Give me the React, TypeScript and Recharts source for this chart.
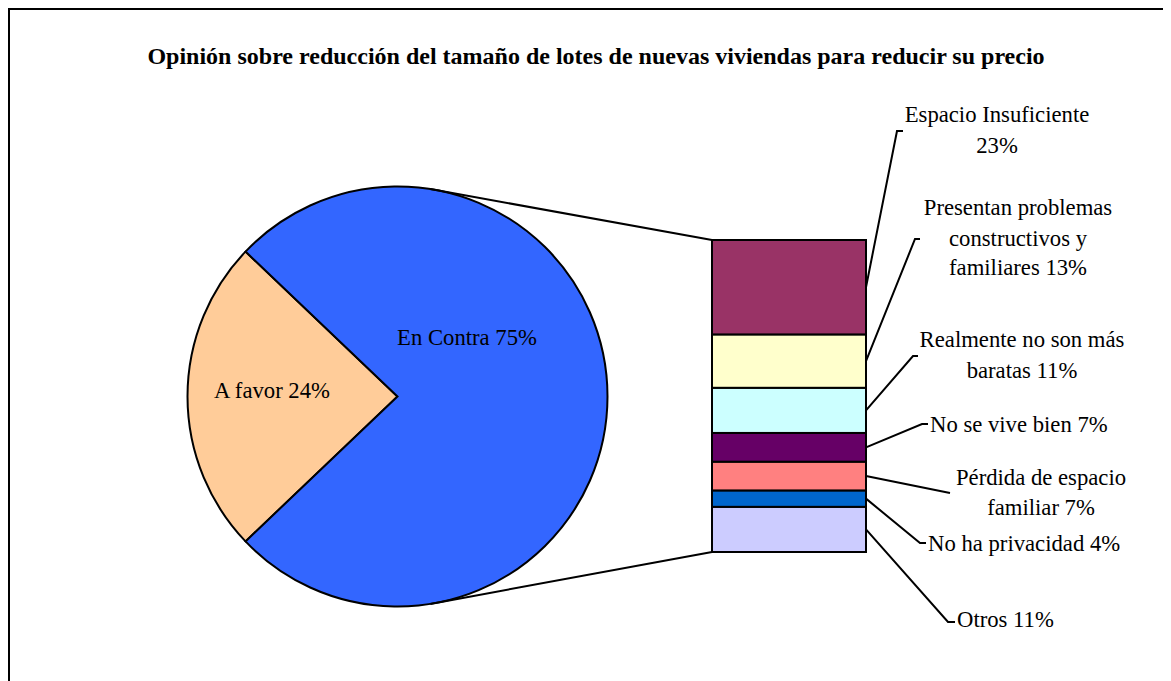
import React from 'react';
import { PieChart, Pie, Cell, BarChart, Bar, XAxis, YAxis } from 'recharts';

const title = 'Opinión sobre reducción del tamaño de lotes de nuevas viviendas para reducir su precio';

const pieNames = ['A favor', 'En Contra'];
const pieValues = [24, 75];
const pieColors = ['#FFCC99', '#3366FF'];

// desglose de "En Contra", de abajo hacia arriba
const barKeys = ['otros', 'privacidad', 'perdida', 'viveBien', 'baratas', 'problemas', 'espacio'];
const barValues = [11, 4, 7, 7, 11, 13, 23];
const barColors = ['#CCCCFF', '#0066CC', '#FF8080', '#660066', '#CCFFFF', '#FFFFCC', '#993366'];
const barLabels = [
	['Otros 11%'],
	['No ha privacidad 4%'],
	['Pérdida de espacio', 'familiar 7%'],
	['No se vive bien 7%'],
	['Realmente no son más', 'baratas 11%'],
	['Presentan problemas', 'constructivos y', 'familiares 13%'],
	['Espacio Insuficiente', '23%'],
];

const W = 1163;
const H = 673;
const FONT = '"Liberation Serif", "Times New Roman", serif';
const FS = 22.7;

const PIE_CX = 389.5;
const PIE_CY = 388.5;
const PIE_R = 210;
const JOIN_ANGLE = 81; // grados, donde salen las líneas hacia la barra

// posición de las etiquetas de la barra: codo de la guía y texto
const labelLayout = [
	{ ex: 940, ey: 614, tx: 947, x: 949, anchor: 'start', ys: [619] },
	{ ex: 912, ey: 535, tx: 918, x: 920, anchor: 'start', ys: [543] },
	{ ex: 942, ey: 485, tx: 942, x: 1033, anchor: 'middle', ys: [477, 507] },
	{ ex: 914, ey: 416, tx: 920, x: 922, anchor: 'start', ys: [424] },
	{ ex: 905, ey: 348, tx: 910, x: 1014, anchor: 'middle', ys: [339, 370] },
	{ ex: 907, ey: 231, tx: 912, x: 1010, anchor: 'middle', ys: [207, 238, 267] },
	{ ex: 889, ey: 123, tx: 895, x: 989, anchor: 'middle', ys: [114, 145] },
];

const pieLabelOffset = [
	{ dx: -125.5, dy: 1.5 },
	{ dx: 69.5, dy: -51.5 },
];

const pieData = pieNames.map((name, i) => ({ name, value: pieValues[i] }));
const barRow: Record<string, any> = { name: 'En Contra' };
barKeys.forEach((k, i) => (barRow[k] = barValues[i]));
const barData = [barRow];
const barTotal = barValues.reduce((a, b) => a + b, 0);
const pieTotal = pieValues.reduce((a, b) => a + b, 0);
const favorSweep = (pieValues[0] / pieTotal) * 360;
const startAngle = 180 - favorSweep / 2;

const joinPoint = (sign: number) => {
	const a = (JOIN_ANGLE * Math.PI) / 180;
	return { x: PIE_CX + PIE_R * Math.cos(a), y: PIE_CY - sign * PIE_R * Math.sin(a) };
};

const renderPieLabel = (p: any) => {
	const off = pieLabelOffset[p.index];
	const text = `${p.name} ${p.value}%`;
	return (
		<text x={p.cx + off.dx} y={p.cy + off.dy} textAnchor='middle' fontFamily={FONT} fontSize={FS} fill='#000'>
			{text}
		</text>
	);
};

const makeSegment = (i: number) => (p: any) => {
	const { x, y, width, height, fill } = p;
	const lay = labelLayout[i];
	const sx = x + width;
	const sy = y + height / 2;
	const top = joinPoint(1);
	const bottom = joinPoint(-1);
	return (
		<g>
			<rect x={x} y={y} width={width} height={height} fill={fill} stroke='#000' strokeWidth={2} />
			<polyline
				points={`${sx},${sy} ${lay.ex},${lay.ey} ${lay.tx},${lay.ey}`}
				fill='none'
				stroke='#000'
				strokeWidth={2}
			/>
			<text textAnchor={lay.anchor} fontFamily={FONT} fontSize={FS} fill='#000'>
				{barLabels[i].map((line, k) => (
					<tspan key={k} x={lay.x} y={lay.ys[k]}>
						{line}
					</tspan>
				))}
			</text>
			{i === barKeys.length - 1 && <line x1={top.x} y1={top.y} x2={x} y2={y} stroke='#000' strokeWidth={2} />}
			{i === 0 && <line x1={bottom.x} y1={bottom.y} x2={x} y2={y + height} stroke='#000' strokeWidth={2} />}
		</g>
	);
};

export default function App() {
	return (
		<div style={{ position: 'relative', width: W, height: H, overflow: 'hidden', background: '#fff' }}>
			<div
				style={{
					position: 'absolute',
					left: 0,
					top: 0,
					width: 1200,
					height: 700,
					border: '2px solid #000',
					boxSizing: 'border-box',
				}}
			/>
			<svg width={W} height={H} style={{ position: 'absolute', left: 0, top: 0 }}>
				<text x={588} y={56} textAnchor='middle' fontFamily={FONT} fontWeight='bold' fontSize={24} fill='#000'>
					{title}
				</text>
			</svg>
			<div style={{ position: 'absolute', left: 0, top: 0 }}>
				<PieChart width={W} height={H} margin={{ top: 0, right: 0, bottom: 0, left: 0 }}>
					<Pie
						data={pieData}
						dataKey='value'
						nameKey='name'
						cx={PIE_CX}
						cy={PIE_CY}
						outerRadius={PIE_R}
						startAngle={startAngle}
						endAngle={startAngle + 360}
						stroke='#000'
						strokeWidth={2}
						label={renderPieLabel}
						labelLine={false}
						isAnimationActive={false}
					>
						{pieData.map((_, i) => (
							<Cell key={`cell-${i}`} fill={pieColors[i]} />
						))}
					</Pie>
				</PieChart>
			</div>
			<div style={{ position: 'absolute', left: 0, top: 0 }}>
				<BarChart
					width={W}
					height={H}
					data={barData}
					margin={{ top: 232, right: W - 858, bottom: H - 544, left: 704 }}
					barCategoryGap='0%'
				>
					<XAxis dataKey='name' hide />
					<YAxis hide domain={[0, barTotal]} />
					{barKeys.map((k, i) => (
						<Bar
							key={k}
							dataKey={k}
							stackId='a'
							fill={barColors[i]}
							shape={makeSegment(i)}
							isAnimationActive={false}
						/>
					))}
				</BarChart>
			</div>
		</div>
	);
}
